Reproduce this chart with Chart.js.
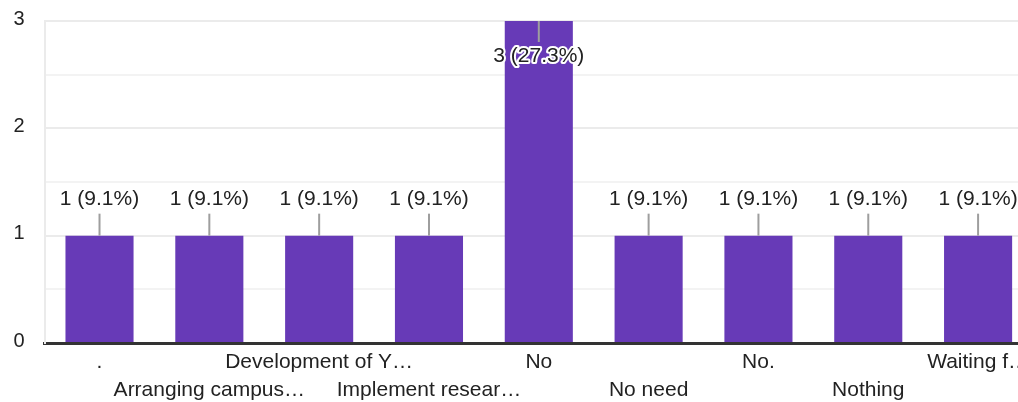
<!DOCTYPE html>
<html>
<head>
<meta charset="utf-8">
<script src="https://cdn.jsdelivr.net/npm/chart.js@4.4.0/dist/chart.umd.min.js"></script>
<style>
html, body { margin: 0; padding: 0; background: #fff; overflow: hidden; }
</style>
</head>
<body>
<canvas id="chart" width="1040" height="402"></canvas>
<script>
const categories = ['.', 'Arranging campus…', 'Development of Y…', 'Implement resear…', 'No', 'No need', 'No.', 'Nothing', 'Waiting f…'];
const responses = [1, 1, 1, 1, 3, 1, 1, 1, 1];
const yTicks = [0, 1, 2, 3];

const total = responses.reduce((a, b) => a + b, 0);
const barColor = '#673ab7';
const fontFamily = "'Liberation Sans', Arial, sans-serif";

// labels alternate between two rows like the original
const rowLabels = categories.map((c, i) => i % 2 === 0 ? [c, ''] : ['', c]);

// count (percent) labels with a small leader line
const valueLabels = {
    id: 'valueLabels',
    afterDatasetsDraw(chart) {
        const ctx = chart.ctx;
        const area = chart.chartArea;
        const meta = chart.getDatasetMeta(0);
        ctx.save();
        ctx.font = '21px ' + fontFamily;
        ctx.textAlign = 'center';
        ctx.textBaseline = 'middle';
        meta.data.forEach((bar, i) => {
            const v = responses[i];
            const text = v + ' (' + (v / total * 100).toFixed(1) + '%)';
            const inside = bar.y - area.top < 40;
            const lineEnd = inside ? bar.y + 21 : bar.y - 22;
            ctx.strokeStyle = '#9e9e9e';
            ctx.lineWidth = 2;
            ctx.beginPath();
            ctx.moveTo(bar.x, bar.y);
            ctx.lineTo(bar.x, lineEnd);
            ctx.stroke();
            const ty = inside ? lineEnd + 14 : lineEnd - 14;
            if (inside) {
                ctx.strokeStyle = '#fff';
                ctx.lineWidth = 4;
                ctx.lineJoin = 'round';
                ctx.strokeText(text, bar.x, ty);
            }
            ctx.fillStyle = '#222';
            ctx.fillText(text, bar.x, ty);
        });
        ctx.restore();
    }
};

const chart = document.getElementById('chart').getContext('2d');

new Chart(chart, {
    type: 'bar',
    data: {
        labels: rowLabels,
        datasets: [{
            data: responses,
            backgroundColor: barColor,
            barPercentage: 0.62,
            categoryPercentage: 1.0
        }]
    },
    options: {
        responsive: false,
        animation: false,
        layout: { padding: { top: 21, right: 7, left: 0, bottom: 0 } },
        plugins: {
            legend: { display: false },
            tooltip: { enabled: false }
        },
        scales: {
            x: {
                grid: { display: false, drawTicks: false },
                border: { display: true, color: '#333', width: 3 },
                ticks: {
                    autoSkip: false,
                    maxRotation: 0,
                    minRotation: 0,
                    padding: 5,
                    color: '#222',
                    font: { family: fontFamily, size: 21, lineHeight: 28 / 21 }
                },
                afterFit(s) { s.height = 59; }
            },
            y: {
                min: 0,
                max: 3,
                ticks: {
                    stepSize: 0.5,
                    padding: 20,
                    labelOffset: -2,
                    color: '#222',
                    font: { family: fontFamily, size: 20 },
                    callback: v => yTicks.includes(v) ? String(v) : ''
                },
                grid: {
                    color: c => yTicks.includes(c.tick.value) ? '#ebebeb' : '#f3f3f3',
                    lineWidth: 2,
                    drawTicks: false
                },
                border: { display: true, color: '#ebebeb', width: 2 },
                afterFit(s) {
                    s.width = 44.6;
                    s.paddingTop = 0;
                    s.paddingBottom = 0;
                }
            }
        }
    },
    plugins: [valueLabels]
});
</script>
</body>
</html>
